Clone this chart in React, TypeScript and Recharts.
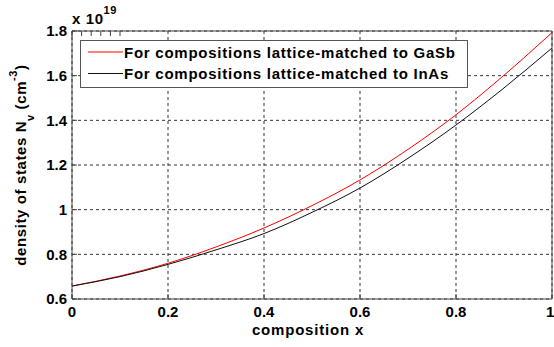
import { LineChart, Line, XAxis, YAxis, CartesianGrid, Legend } from 'recharts'

// composition x (0..1) and effective density of states Nv (x 1e19 cm^-3)
const compositionX = [0, 0.1, 0.2, 0.3, 0.4, 0.5, 0.6, 0.7, 0.8, 0.9, 1]
const nvGaSb = [0.658, 0.703, 0.76, 0.833, 0.918, 1.018, 1.133, 1.27, 1.425, 1.602, 1.793]
const nvInAs = [0.658, 0.7, 0.755, 0.82, 0.893, 0.988, 1.097, 1.23, 1.379, 1.545, 1.724]
const xTicks = [0, 0.2, 0.4, 0.6, 0.8, 1]
const yTicks = [0.6, 0.8, 1, 1.2, 1.4, 1.6, 1.8]
const seriesNames = ['For compositions lattice-matched to GaSb', 'For compositions lattice-matched to InAs']

const data = compositionX.map((x, i) => ({ x, gasb: nvGaSb[i], inas: nvInAs[i] }))

const FONT = '"Liberation Sans", Arial, sans-serif'
const fmt = (v: number) => String(Math.round(v * 10) / 10)

function LegendBox({ payload }: any) {
  return (
    <svg width={389} height={49} style={{ display: 'block' }}>
      <rect x={0.5} y={0.5} width={387} height={47} fill="#fff" stroke="#555" />
      {(payload || []).map((p: any, i: number) => (
        <g key={i}>
          <line x1={8} x2={43} y1={12 + i * 21.5} y2={12 + i * 21.5} stroke={p.color} strokeWidth={1} />
          <text x={44} y={17.5 + i * 21.5} fontFamily={FONT} fontWeight="bold" fontSize={15}
            letterSpacing={0.75} fill="#000">{p.value}</text>
        </g>
      ))}
    </svg>
  )
}

const yLabel = () => (
  <text x={26} y={165} transform="rotate(-90 26 165)" textAnchor="middle" fontFamily={FONT}
    fontWeight="bold" fontSize={15} letterSpacing={0.6} fill="#000">
    density of states N<tspan dy={8} fontSize={11}>v</tspan><tspan dy={-8}> (cm</tspan>
    <tspan dy={-9} fontSize={11}>-3</tspan><tspan dy={9}>)</tspan>
  </text>
)

const xLabel = () => (
  <text x={308} y={335} textAnchor="middle" fontFamily={FONT} fontWeight="bold" fontSize={15}
    letterSpacing={0.8} fill="#000">composition x</text>
)

const tickStyle = { fontFamily: FONT, fontWeight: 'bold', fontSize: 15, fill: '#000' }

export default function App() {
  return (
    <div style={{ position: 'absolute', left: 0, top: 0, width: 554, height: 347, background: '#fff' }}>
      <LineChart width={554} height={347} data={data} margin={{ top: 30, right: 1, bottom: 0, left: 0 }}>
        <text x={72} y={24} fontFamily={FONT} fontWeight="bold" fontSize={15} letterSpacing={0.6} fill="#000">
          x 10<tspan dy={-10} fontSize={11}>19</tspan>
        </text>
        <CartesianGrid stroke="#333" strokeDasharray="3 3" horizontalValues={yTicks} verticalValues={xTicks} />
        <XAxis dataKey="x" type="number" domain={[0, 1]} ticks={xTicks} tickFormatter={fmt} height={48}
          stroke="#444" tickSize={-5} tickMargin={12} tick={tickStyle} label={xLabel} />
        <XAxis xAxisId="top" orientation="top" type="number" domain={[0, 1]} ticks={xTicks} height={1}
          stroke="#444" tickSize={-5} tickFormatter={() => ''} />
        <YAxis type="number" domain={[0.6, 1.8]} ticks={yTicks} tickFormatter={fmt} width={72}
          stroke="#444" tickSize={-5} tickMargin={10} tick={tickStyle} label={yLabel} />
        <YAxis yAxisId="right" orientation="right" type="number" domain={[0.6, 1.8]} ticks={yTicks} width={1}
          stroke="#444" tickSize={-5} tickFormatter={() => ''} />
        <Line type="monotone" dataKey="gasb" name={seriesNames[0]} stroke="#ff0000" strokeWidth={1}
          dot={false} isAnimationActive={false} />
        <Line type="monotone" dataKey="inas" name={seriesNames[1]} stroke="#111" strokeWidth={1}
          dot={false} isAnimationActive={false} />
        <Legend content={LegendBox} layout="vertical" verticalAlign="middle" align="center"
          wrapperStyle={{ position: 'absolute', left: 80, top: 40, width: 389, height: 49 }} />
      </LineChart>
    </div>
  )
}
